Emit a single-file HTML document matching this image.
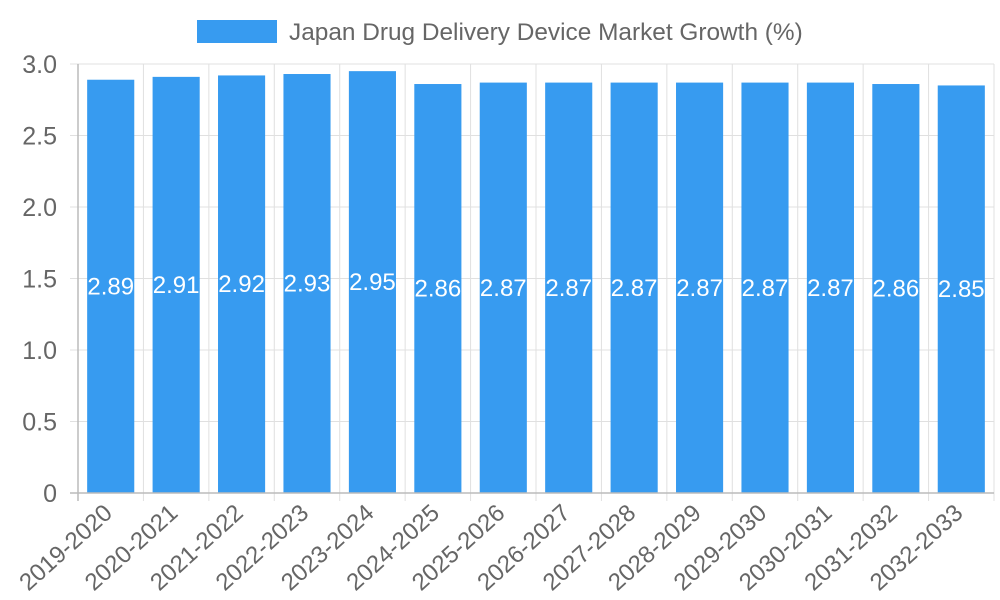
<!DOCTYPE html>
<html><head><meta charset="utf-8"><style>
html,body{margin:0;padding:0;background:#fff;}
svg{display:block;font-family:"Liberation Sans",sans-serif;}
</style></head><body>
<svg id="chart" width="1000" height="600" viewBox="0 0 1000 600" xmlns="http://www.w3.org/2000/svg">
<g id="grid"></g>
<g id="bars"></g>
<g id="axes"></g>
<g>
<rect x="197" y="20" width="80" height="23" fill="#379bf0"/>
<text x="289" y="40" font-size="24.4" fill="#666">Japan Drug Delivery Device Market Growth (%)</text>
</g>
</svg>
<script>
const categories = ["2019-2020","2020-2021","2021-2022","2022-2023","2023-2024","2024-2025","2025-2026","2026-2027","2027-2028","2028-2029","2029-2030","2030-2031","2031-2032","2032-2033"];
const values = [2.89,2.91,2.92,2.93,2.95,2.86,2.87,2.87,2.87,2.87,2.87,2.87,2.86,2.85];
const yTicks = [0,0.5,1.0,1.5,2.0,2.5,3.0];
const yTickLabels = ["0","0.5","1.0","1.5","2.0","2.5","3.0"];

const NS="http://www.w3.org/2000/svg";
const L=78,R=994,T=64,B=493,yMax=3;
const step=(R-L)/categories.length;
const x=i=>L+step*i;
const y=v=>B-(v/yMax)*(B-T);
function mk(tag,attrs,parent,text){const e=document.createElementNS(NS,tag);for(const k in attrs)e.setAttribute(k,attrs[k]);if(text!==undefined)e.textContent=text;parent.appendChild(e);return e;}
const grid=document.getElementById('grid'),bars=document.getElementById('bars'),axes=document.getElementById('axes');
yTicks.forEach((t,i)=>{
  const g=mk('line',{x1:70,x2:R,y1:y(t),y2:y(t),stroke:'#e0e0e0','stroke-width':1},grid);
  
  
  const lb=mk('text',{x:57,y:y(t)+9,'text-anchor':'end','font-size':25,fill:'#666'},axes,yTickLabels[i]);
  
  
});
for(let i=0;i<=categories.length;i++){
  const g=mk('line',{x1:x(i),x2:x(i),y1:T,y2:B+8,stroke:'#e0e0e0','stroke-width':1},grid);
  
  
}
const ax=mk('line',{x1:L,x2:L,y1:T,y2:B+8,stroke:'#bbb','stroke-width':1.5},axes);


const bx=mk('line',{x1:70,x2:R,y1:B,y2:B,stroke:'#bbb','stroke-width':1.5},axes);


const bw=step*0.72;
categories.forEach((c,i)=>{
  const cx=x(i)+step/2;
  const r=mk('rect',{x:cx-bw/2,y:y(values[i]),width:bw,height:B-y(values[i]),fill:'#379bf0'},bars);
  
  
  const v=mk('text',{x:cx,y:(y(values[i])+B)/2+8,'text-anchor':'middle','font-size':24,fill:'#fff'},bars,values[i].toFixed(2));
  
  
  const t=mk('text',{x:0,y:0,'text-anchor':'end','font-size':24,fill:'#666',transform:`translate(${cx+3},${B+22}) rotate(-42)`},axes,c);
  
  
});
</script>
</body></html>
